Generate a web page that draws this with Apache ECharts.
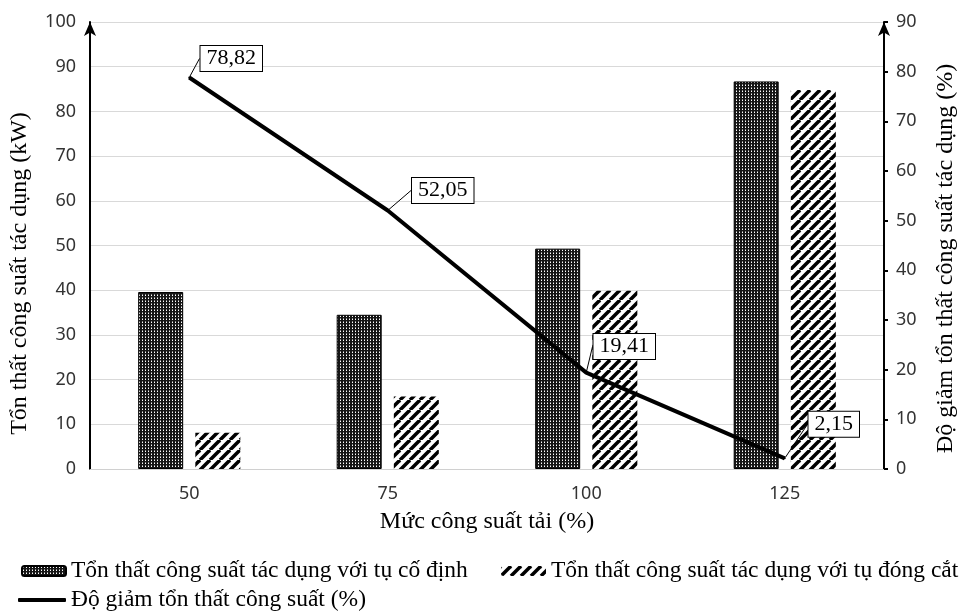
<!DOCTYPE html>
<html lang="vi">
<head>
    <meta charset="UTF-8">
    <title>Tổn thất công suất</title>
    <style>
        body { margin: 0; background: #fff; }
        #chart { width: 966px; height: 613px; }
    </style>
    <script src="https://cdn.jsdelivr.net/npm/echarts@6/dist/echarts.min.js"></script>
</head>
<body>
<div id="chart"></div>
<script>
    // Data
    var loadLevels = ['50', '75', '100', '125'];
    var lossFixed = [39.6, 34.5, 49.3, 86.7];      // tụ cố định (kW)
    var lossSwitched = [8.1, 16.2, 39.9, 84.8];    // tụ đóng cắt (kW)
    var lossReduction = [78.82, 52.05, 19.41, 2.15]; // độ giảm (%)

    var nameFixed = 'Tổn thất công suất tác dụng với tụ cố định';
    var nameSwitched = 'Tổn thất công suất tác dụng với tụ đóng cắt';
    var nameReduction = 'Độ giảm tổn thất công suất (%)';

    // label box offsets from each line point
    var labelShift = [[42, -19], [55, -20], [38, -26], [49, -34]];

    var serif = '"Liberation Serif", "Times New Roman", serif';
    var sans = '"Noto Sans", Arial, sans-serif';

    function dotPattern() {
        var c = document.createElement('canvas');
        c.width = 3; c.height = 3;
        var ctx = c.getContext('2d');
        ctx.fillStyle = '#151515';
        ctx.fillRect(0, 0, 3, 3);
        ctx.fillStyle = '#ffffff';
        ctx.fillRect(1, 1, 1, 1);
        ctx.fillStyle = '#888888';
        ctx.fillRect(1, 0, 1, 1);
        return c;
    }

    function hatchPattern() {
        var s = 10;
        var c = document.createElement('canvas');
        c.width = s; c.height = s;
        var ctx = c.getContext('2d');
        ctx.fillStyle = '#ffffff';
        ctx.fillRect(0, 0, s, s);
        ctx.strokeStyle = '#000000';
        ctx.lineWidth = 3.5;
        [-s, 0, s].forEach(function (k) {
            ctx.beginPath();
            ctx.moveTo(k, s);
            ctx.lineTo(k + s, 0);
            ctx.stroke();
        });
        return c;
    }

    var chart = echarts.init(document.getElementById('chart'));

    var legendText = { fontFamily: serif, fontSize: 23.5, color: '#000' };

    var option = {
        backgroundColor: '#fff',
        animation: false,
        grid: { left: 88, right: 76, top: 22, bottom: 144 },
        legend: [
            {
                data: [nameFixed], left: 16, top: 554,
                itemWidth: 44, itemHeight: 10,
                textStyle: legendText
            },
            {
                data: [nameSwitched], left: 496, top: 554,
                itemWidth: 45, itemHeight: 10,
                textStyle: legendText
            },
            {
                data: [{ name: nameReduction, icon: 'roundRect' }], left: 13, top: 583,
                itemWidth: 48, itemHeight: 4,
                textStyle: legendText
            }
        ],
        xAxis: {
            type: 'category',
            data: loadLevels,
            name: 'Mức công suất tải (%)',
            nameLocation: 'middle',
            nameGap: 41,
            nameTextStyle: { fontFamily: serif, fontSize: 24, color: '#000' },
            axisLine: { lineStyle: { color: '#d0d0d0', width: 1 } },
            axisTick: { show: false },
            axisLabel: { fontFamily: sans, fontSize: 18, color: '#333', margin: 16 }
        },
        yAxis: [
            {
                type: 'value',
                min: 0, max: 100, interval: 10,
                name: 'Tổn thất công suất tác dụng (kW)',
                nameLocation: 'middle',
                nameRotate: 90,
                nameGap: 58,
                nameTextStyle: { fontFamily: serif, fontSize: 24, color: '#000', padding: [0, 56, 0, 0] },
                axisLine: {
                    show: true,
                    symbol: ['none', 'arrow'],
                    symbolSize: [9, 14],
                    symbolOffset: [0, 0],
                    lineStyle: { color: '#000', width: 2 }
                },
                axisTick: { show: false },
                axisLabel: { fontFamily: sans, fontSize: 18, color: '#333', margin: 14 },
                splitLine: { lineStyle: { color: '#d9d9d9', width: 1 } }
            },
            {
                type: 'value',
                min: 0, max: 90, interval: 10,
                name: 'Độ giảm tổn thất công suất tác dụng (%)',
                nameLocation: 'middle',
                nameRotate: 90,
                nameGap: 50,
                nameTextStyle: { fontFamily: serif, fontSize: 24, color: '#000', padding: [0, 26, 0, 0] },
                axisLine: {
                    show: true,
                    symbol: ['none', 'arrow'],
                    symbolSize: [9, 14],
                    symbolOffset: [0, 0],
                    lineStyle: { color: '#000', width: 2 }
                },
                axisTick: { show: true, length: 4, lineStyle: { color: '#000', width: 2 } },
                axisLabel: { fontFamily: sans, fontSize: 18, color: '#333', margin: 12 },
                splitLine: { show: false }
            }
        ],
        series: [
            {
                name: nameFixed,
                type: 'bar',
                data: lossFixed,
                barWidth: 45,
                barGap: '27%',
                itemStyle: {
                    color: { image: dotPattern(), repeat: 'repeat' },
                    borderColor: '#000',
                    borderWidth: 1
                }
            },
            {
                name: nameSwitched,
                type: 'bar',
                data: lossSwitched,
                barWidth: 45,
                itemStyle: {
                    color: { image: hatchPattern(), repeat: 'repeat' }
                }
            },
            {
                name: nameReduction,
                type: 'line',
                yAxisIndex: 1,
                data: lossReduction,
                showSymbol: true,
                symbol: 'circle',
                symbolSize: 2,
                z: 5,
                lineStyle: { color: '#000', width: 4 },
                itemStyle: { color: '#000' },
                label: {
                    show: true,
                    position: 'inside',
                    formatter: function (p) { return String(p.value).replace('.', ','); },
                    fontFamily: serif,
                    fontSize: 22,
                    color: '#000',
                    backgroundColor: '#fff',
                    borderColor: '#000',
                    borderWidth: 1,
                    padding: [2, 6, 1, 6]
                },
                labelLine: { show: true, lineStyle: { color: '#000', width: 1 } },
                labelLayout: function (p) {
                    var s = labelShift[p.dataIndex];
                    return { dx: s[0], dy: s[1] };
                }
            }
        ]
    };

    chart.setOption(option);
</script>
</body>
</html>
